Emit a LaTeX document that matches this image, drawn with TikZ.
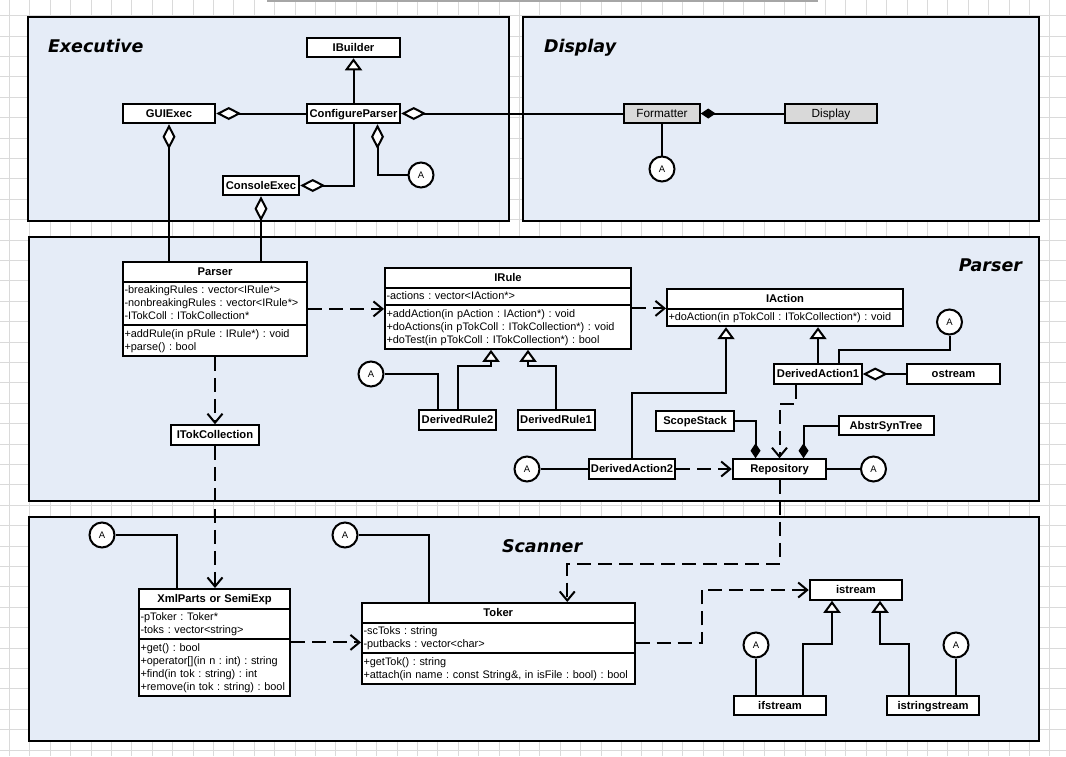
\documentclass[tikz,border=0pt]{standalone}
\usepackage{fontspec}
\setmainfont{Liberation Sans}
\newfontfamily\pkgfont{DejaVu Sans}
\usetikzlibrary{shapes,arrows.meta}

\frenchspacing
\setlength{\parindent}{0pt}
\setlength{\parskip}{0pt}
\newcommand{\hstrut}{\rule[-4pt]{0pt}{15pt}}
\newcommand{\mstrut}{\rule[-3.4pt]{0pt}{13pt}}
\newcommand{\head}[1]{\centering\bfseries\fontsize{11.2}{13}\selectfont\hstrut#1\par}
\newcommand{\member}[1]{\mbox{\mstrut#1}\par}

\definecolor{pkgblue}{RGB}{229,236,247}
\definecolor{boxgray}{RGB}{217,217,217}
\definecolor{gridgray}{RGB}{218,218,218}

\begin{document}
\begin{tikzpicture}[x=1pt,y=-1pt,line width=2pt]
\tikzstyle{pkg}=[draw,fill=pkgblue,line width=2.5pt]
\tikzstyle{pkgname}=[inner sep=0pt,font=\pkgfont\bfseries\itshape\fontsize{17.5}{20}\selectfont]
\tikzstyle{cls}=[rectangle,draw,fill=white,minimum height=19.5pt,inner sep=0pt,text height=8.5pt,text depth=1.5pt,font=\bfseries\fontsize{11.2}{13}\selectfont]
\tikzstyle{umlclass}=[rectangle split,rectangle split parts=#1,draw,fill=white,anchor=north west,inner xsep=1.5pt,inner ysep=1.3pt,font=\fontsize{10.9}{13}\selectfont]
\tikzstyle{ref}=[circle,draw,fill=white,minimum size=25pt,inner sep=0pt,text height=7pt,text depth=0pt,font=\fontsize{9.5}{11}\selectfont]
\tikzstyle{agg}=[{Diamond[length=25pt,width=13pt,fill=white]}-]
\tikzstyle{comp}=[{Diamond[length=15pt,width=10pt]}-]
\tikzstyle{gen}=[-{Triangle[length=12pt,width=17pt,fill=white]}]
\tikzstyle{dep}=[dash pattern=on 14pt off 7pt,-{Straight Barb[length=9pt,width=15pt]}]

\useasboundingbox (0,0) rectangle (1066,756);
\begin{scope}[shift={(9.3,15.6)}]
\draw[gridgray,line width=0.8pt] (-9.3,740.4) grid[step=20.4pt] (1056.7,-15.6);
\end{scope}
\draw[gray!70,line width=1.5pt] (267,1) -- (818,1);

\draw[pkg] (28,17) rectangle (509,221);
\draw[pkg] (523,17) rectangle (1039,221);
\draw[pkg] (29,237) rectangle (1039,501);
\draw[pkg] (29,517) rectangle (1039,741);
\node[pkgname,anchor=base west] (ExecutiveLbl) at (47,52) {Executive};
\node[pkgname,anchor=base west] (DisplayLbl) at (543,52) {Display};
\node[pkgname,anchor=base east] (ParserLbl) at (1023,271) {Parser};
\node[pkgname,anchor=base west] (ScannerLbl) at (501,552) {Scanner};

\node[cls,minimum width=93.5pt] (IBuilder) at (353.5,47.5) {IBuilder};
\node[cls,minimum width=92.5pt] (GUIExec) at (169,113.5) {GUIExec};
\node[cls,minimum width=93.5pt] (ConfigureParser) at (353.5,113.5) {ConfigureParser};
\node[cls,minimum width=76.5pt] (ConsoleExec) at (261,185.5) {ConsoleExec};
\node[cls,minimum width=75.5pt,fill=boxgray,font=\fontsize{11.8}{13}\selectfont] (Formatter) at (662,113.5) {Formatter};
\node[cls,minimum width=92.5pt,fill=boxgray,font=\fontsize{11.8}{13}\selectfont] (Display) at (831,113.5) {Display};
\node[ref] (A1) at (421,175) {A};
\node[ref] (A2) at (662,169) {A};

\node[umlclass=3,text width=181pt] (Parser) at (122,261) {\head{Parser}
\nodepart{two} \member{-breakingRules : vector<IRule*>}
\member{-nonbreakingRules : vector<IRule*>}
\member{-ITokColl : ITokCollection*}
\nodepart{three} \member{+addRule(in pRule : IRule*) : void}
\member{+parse() : bool}};
\node[umlclass=3,text width=243pt] (IRule) at (384,267) {\head{IRule}
\nodepart{two} \member{-actions : vector<IAction*>}
\nodepart{three} \member{+addAction(in pAction : IAction*) : void}
\member{+doActions(in pTokColl : ITokCollection*) : void}
\member{+doTest(in pTokColl : ITokCollection*) : bool}};
\node[umlclass=2,text width=233pt] (IAction) at (666,288) {\head{IAction}
\nodepart{two} \member{+doAction(in pTokColl : ITokCollection*) : void}};
\node[cls,minimum width=87.5pt] (ITokCollection) at (215,435) {ITokCollection};
\node[cls,minimum width=77.5pt] (DerivedRule2) at (457.5,420) {DerivedRule2};
\node[cls,minimum width=77pt] (DerivedRule1) at (556,420) {DerivedRule1};
\node[cls,minimum width=87.5pt] (DerivedAction1) at (818,374) {DerivedAction1};
\node[cls,minimum width=93.5pt] (ostream) at (953.5,374) {ostream};
\node[cls,minimum width=78.5pt] (ScopeStack) at (695,421) {ScopeStack};
\node[cls,minimum width=95pt] (AbstrSynTree) at (886,425.5) {AbstrSynTree};
\node[cls,minimum width=86.5pt] (DerivedAction2) at (632,469) {DerivedAction2};
\node[cls,minimum width=93.5pt] (Repository) at (779.5,469) {Repository};
\node[ref] (A3) at (371,374) {A};
\node[ref] (A4) at (527,469) {A};
\node[ref] (A5) at (949.5,322) {A};
\node[ref] (A6) at (873.5,469) {A};

\node[umlclass=3,text width=148pt] (XmlParts) at (138,588) {\head{XmlParts or SemiExp}
\nodepart{two} \member{-pToker : Toker*}
\member{-toks : vector<string>}
\nodepart{three} \member{+get() : bool}
\member{+operator[](in n : int) : string}
\member{+find(in tok : string) : int}
\member{+remove(in tok : string) : bool}};
\node[umlclass=3,text width=269.5pt] (Toker) at (361,602) {\head{Toker}
\nodepart{two} \member{-scToks : string}
\member{-putbacks : vector<char>}
\nodepart{three} \member{+getTok() : string}
\member{+attach(in name : const String\&, in isFile : bool) : bool}};
\node[cls,minimum width=92.5pt] (istream) at (856,590) {istream};
\node[cls,minimum width=92.5pt] (ifstream) at (780,705.5) {ifstream};
\node[cls,minimum width=92.5pt] (istringstream) at (933,705.5) {istringstream};
\node[ref] (A7) at (102,535) {A};
\node[ref] (A8) at (345,535) {A};
\node[ref] (A9) at (756,645) {A};
\node[ref] (A10) at (956,645) {A};

\draw[gen] (ConfigureParser) -- (IBuilder);
\draw[agg] (GUIExec) -- (ConfigureParser);
\draw[agg] (ConfigureParser) -- (Formatter);
\draw[comp] (Formatter) -- (Display);
\draw (Formatter) -- (A2);
\draw[agg] (GUIExec.south) -- (GUIExec.south |- Parser.north);
\draw[agg] (ConsoleExec.south) -- (ConsoleExec.south |- Parser.north);
\draw[agg] (ConsoleExec.east) -| (ConfigureParser.south);
\draw[agg] ([xshift=24pt]ConfigureParser.south) |- (A1.west);

\draw[dep] (Parser.east) -- (Parser.east -| IRule.west);
\draw[dep] (IRule.east) -- (IRule.east -| IAction.west);
\draw[dep] (Parser.south) -- (Parser.south |- ITokCollection.north);
\draw[dep] (ITokCollection.south) -- (ITokCollection.south |- XmlParts.north);
\draw[gen] (DerivedRule2.north) -- ++(0,-43) -| ([xshift=-17pt]IRule.south);
\draw[gen] (DerivedRule1.north) -- ++(0,-43) -| ([xshift=20pt]IRule.south);
\draw (A3.east) -| ([xshift=-20pt]DerivedRule2.north);
\draw[gen] (DerivedAction2.north) -- ++(0,-65) -| ([xshift=-59pt]IAction.south);
\draw[gen] (DerivedAction1.north) -- (DerivedAction1.north |- IAction.south);
\draw ([xshift=21pt]DerivedAction1.north) -- ++(0,-13) -| (A5.south);
\draw[agg] (DerivedAction1) -- (ostream);
\draw[dep] ([xshift=-22pt]DerivedAction1.south) -- ++(0,19) -| (Repository.north);
\draw[comp] ([xshift=-24pt]Repository.north) |- (ScopeStack.east);
\draw[comp] ([xshift=24pt]Repository.north) |- (AbstrSynTree.west);
\draw[dep] (DerivedAction2) -- (Repository);
\draw (A4) -- (DerivedAction2);
\draw (Repository) -- (A6);

\draw[dep] (Repository.south) -- ++(0,84) -| ([xshift=69pt]Toker.north);
\draw (A7.east) -| ([xshift=-38pt]XmlParts.north);
\draw (A8.east) -| ([xshift=-69pt]Toker.north);
\draw[dep] (XmlParts.east) -- (XmlParts.east -| Toker.west);
\draw[dep] (Toker.east) -- ++(66,0) |- (istream.west);
\draw[gen] ([xshift=23pt]ifstream.north) -- ++(0,-51) -| ([xshift=-24pt]istream.south);
\draw[gen] ([xshift=-24pt]istringstream.north) -- ++(0,-51) -| ([xshift=24pt]istream.south);
\draw (A9) -- (A9 |- ifstream.north);
\draw (A10) -- (A10 |- istringstream.north);
\end{tikzpicture}
\end{document}
